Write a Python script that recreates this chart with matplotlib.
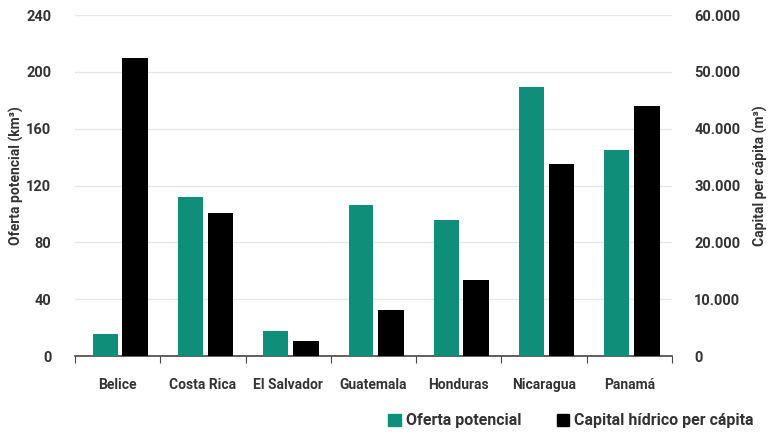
import matplotlib
matplotlib.use("Agg")
import matplotlib.pyplot as plt
import numpy as np
from matplotlib.ticker import FuncFormatter
from matplotlib.patches import Patch

countries = ["Belice", "Costa Rica", "El Salvador", "Guatemala", "Honduras", "Nicaragua", "Panamá"]
oferta = [15.5, 112, 17.5, 106, 96, 189, 145]
capital = [52500, 25100, 2600, 8100, 13400, 33800, 44000]
left_ticks = [0, 40, 80, 120, 160, 200, 240]
right_ticks = [0, 10000, 20000, 30000, 40000, 50000, 60000]

green = "#0f8f7a"
txt = "#333333"
plt.rcParams['font.family'] = ['Roboto', 'DejaVu Sans']
plt.rcParams['font.weight'] = 'bold'

fig = plt.figure(figsize=(7.68, 4.34), dpi=100)
ax = fig.add_axes([0.0977, 0.1797, 0.7773, 0.7857])
ax2 = ax.twinx()

x = np.arange(len(countries))
ax.bar(x - 0.147, oferta, width=0.29, color=green, zorder=3)
ax2.bar(x + 0.205, capital, width=0.30, color="black", zorder=3)

ax.set_xlim(-0.5, len(countries) - 0.5)
ax.set_ylim(0, 240)
ax2.set_ylim(0, 60000)
ax.set_yticks(left_ticks)
ax2.set_yticks(right_ticks)
ax2.yaxis.set_major_formatter(FuncFormatter(lambda v, p: "0" if v == 0 else f"{int(v):,}".replace(",", ".")))

ax.grid(axis="y", color="#e6e6e6", linewidth=1, zorder=0)
ax.set_axisbelow(True)
for a in (ax, ax2):
    for s in ("top", "left", "right", "bottom"):
        a.spines[s].set_visible(False)
ax.spines["bottom"].set_visible(True)
ax.spines["bottom"].set_color("#444444")
ax.spines["bottom"].set_linewidth(1.2)

ax.set_xticks(np.arange(len(countries) + 1) - 0.5, minor=False)
ax.set_xticklabels([])
ax.tick_params(axis="x", which="major", length=5, direction="out", color="#444444")
ax.set_xticks(x, minor=True)
ax.set_xticklabels(countries, minor=True)
ax.tick_params(axis="x", which="minor", length=0, pad=16, labelsize=10, labelcolor=txt)

ax.tick_params(axis="y", length=0, labelsize=10.5, labelcolor=txt, pad=17)
ax2.tick_params(axis="y", length=0, labelsize=10.5, labelcolor=txt, pad=16)

fig.text(16 / 768, 1 - 176 / 434, "Oferta potencial (km³)", rotation=90, ha="center", va="center",
         fontsize=10, color=txt)
fig.text(760 / 768, 1 - 176 / 434, "Capital per cápita (m³)", rotation=90, ha="center", va="center",
         fontsize=10, color=txt)

handles = [Patch(color=green), Patch(color="black")]
leg = fig.legend(handles, ["Oferta potencial", "Capital hídrico per cápita"], ncol=2,
                 loc="lower right", bbox_to_anchor=(1.0, -0.02), frameon=False,
                 fontsize=11.5, handlelength=0.8, handleheight=0.8, handletextpad=0.3,
                 columnspacing=2.2)
for t in leg.get_texts():
    t.set_color(txt)

fig.savefig("out.png", dpi=100)
